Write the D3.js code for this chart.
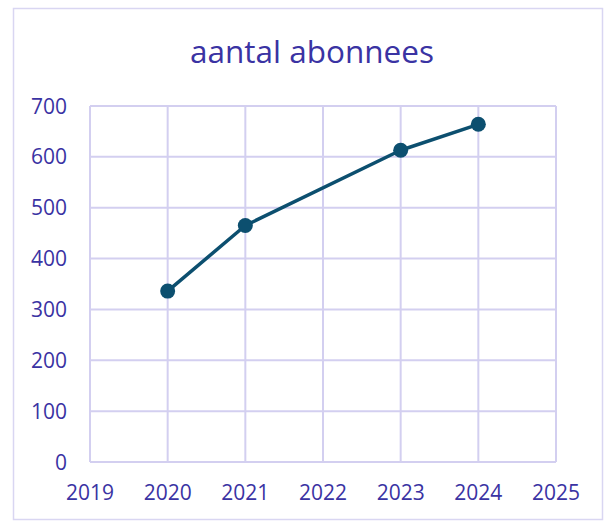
<!DOCTYPE html>
<html>
<head>
<meta charset="utf-8">
<script src="https://cdn.jsdelivr.net/npm/d3@7"></script>
<style>
  body { margin: 0; background: #fff; overflow: hidden; }
  svg { display: block; }
  text { font-family: "Open Sans", "Liberation Sans", sans-serif; fill: #3a33a3; }
</style>
</head>
<body>
<svg id="canvas"></svg>
<script>
const years = [2020, 2021, 2023, 2024];
const abonnees = [336, 465, 613, 664];
const xTicks = [2019, 2020, 2021, 2022, 2023, 2024, 2025];
const yTicks = [0, 100, 200, 300, 400, 500, 600, 700];

const width = 613;
const height = 523;
const margin = { top: 106, right: 57, bottom: 61, left: 90 };
const innerWidth = width - margin.left - margin.right;
const innerHeight = height - margin.top - margin.bottom;

const svg = d3.select("#canvas")
    .attr("width", width)
    .attr("height", height);

// outer chart border
svg.append("rect")
    .attr("x", 13.5)
    .attr("y", 8.5)
    .attr("width", 589)
    .attr("height", 511)
    .attr("fill", "none")
    .attr("stroke", "#d9d6f2")
    .attr("stroke-width", 1.5);

svg.append("text")
    .attr("x", 312)
    .attr("y", 63)
    .attr("text-anchor", "middle")
    .style("font-size", "31.5px")
    .text("aantal abonnees");

const g = svg.append("g")
    .attr("transform", `translate(${margin.left},${margin.top})`);

const x = d3.scaleLinear()
    .domain([2019, 2025])
    .range([0, innerWidth]);

const y = d3.scaleLinear()
    .domain([0, 700])
    .range([innerHeight, 0]);

// gridlines
g.append("g")
    .selectAll("line")
    .data(yTicks)
    .enter()
    .append("line")
    .attr("x1", 0)
    .attr("x2", innerWidth)
    .attr("y1", d => y(d))
    .attr("y2", d => y(d))
    .attr("stroke", "#d3cff0")
    .attr("stroke-width", 2);

g.append("g")
    .selectAll("line")
    .data(xTicks)
    .enter()
    .append("line")
    .attr("x1", d => x(d))
    .attr("x2", d => x(d))
    .attr("y1", 0)
    .attr("y2", innerHeight)
    .attr("stroke", "#d3cff0")
    .attr("stroke-width", 2);

// tick labels
g.append("g")
    .selectAll("text")
    .data(xTicks)
    .enter()
    .append("text")
    .attr("x", d => x(d))
    .attr("y", innerHeight + 38)
    .attr("text-anchor", "middle")
    .style("font-size", "21px")
    .text(d => d);

g.append("g")
    .selectAll("text")
    .data(yTicks)
    .enter()
    .append("text")
    .attr("x", -23)
    .attr("y", d => y(d) + 7.5)
    .attr("text-anchor", "end")
    .style("font-size", "21px")
    .text(d => d);

const points = years.map((yr, i) => ({ year: yr, value: abonnees[i] }));

g.append("path")
    .datum(points)
    .attr("fill", "none")
    .attr("stroke", "#0c4f6f")
    .attr("stroke-width", 3.5)
    .attr("stroke-linejoin", "round")
    .attr("d", d3.line().x(d => x(d.year)).y(d => y(d.value)));

g.selectAll("circle")
    .data(points)
    .enter()
    .append("circle")
    .attr("cx", d => x(d.year))
    .attr("cy", d => y(d.value))
    .attr("r", 7.5)
    .attr("fill", "#0c4f6f");
</script>
</body>
</html>
